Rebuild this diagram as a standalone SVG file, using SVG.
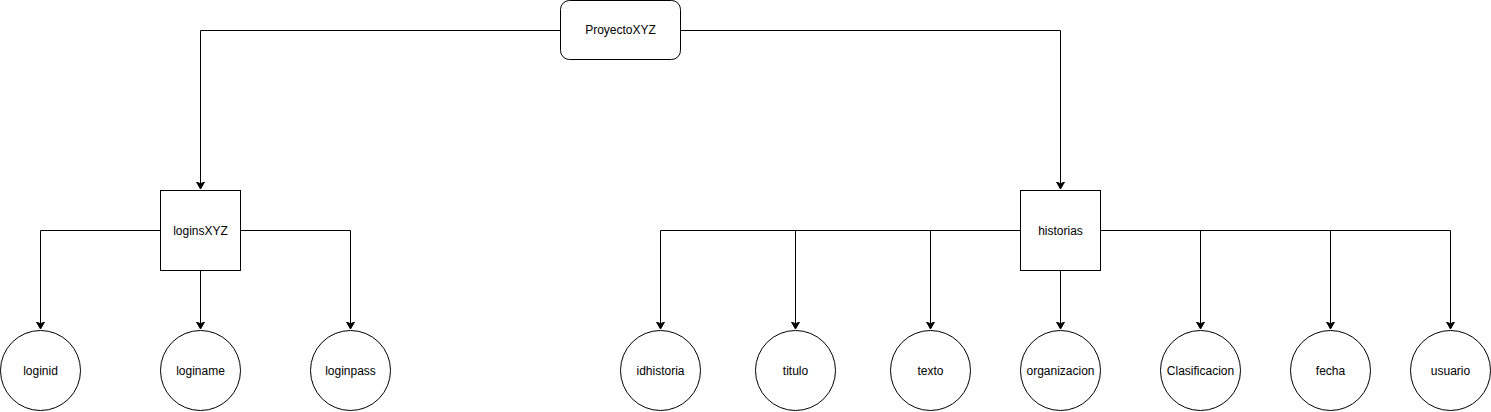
<svg xmlns="http://www.w3.org/2000/svg" width="1491" height="412" viewBox="0 0 1491 412">
<style>
.n{fill:#fff;stroke:#000;stroke-width:1}
.t{font-family:"Liberation Sans",Arial,sans-serif;font-size:12px;fill:#000;text-anchor:middle;dominant-baseline:central}
.e{fill:none;stroke:#000;stroke-width:1}
</style>
<defs>
<marker id="a" markerWidth="10" markerHeight="10" refX="7" refY="4" orient="auto" markerUnits="userSpaceOnUse" viewBox="0 0 10 8">
<path d="M0,0 L7,4 L0,8 L1.75,4 Z" fill="#000" stroke="#000" stroke-width="1"/>
</marker>
</defs>
<rect width="1491" height="412" fill="#fff"/>
<g id="connectors">
<path class="e" d="M560.5,30.5 H200.5 V189" marker-end="url(#a)"/>
<path class="e" d="M680.5,30.5 H1060.5 V189" marker-end="url(#a)"/>
<path class="e" d="M160.5,230.5 H40.5 V329" marker-end="url(#a)"/>
<path class="e" d="M200.5,270.5 V329" marker-end="url(#a)"/>
<path class="e" d="M240.5,230.5 H350.5 V329" marker-end="url(#a)"/>
<path class="e" d="M1020.5,230.5 H660.5 V329" marker-end="url(#a)"/>
<path class="e" d="M795.5,230.5 V329" marker-end="url(#a)"/>
<path class="e" d="M930.5,230.5 V329" marker-end="url(#a)"/>
<path class="e" d="M1060.5,270.5 V329" marker-end="url(#a)"/>
<path class="e" d="M1100.5,230.5 H1450.5 V329" marker-end="url(#a)"/>
<path class="e" d="M1200.5,230.5 V329" marker-end="url(#a)"/>
<path class="e" d="M1330.5,230.5 V329" marker-end="url(#a)"/>
</g>
<g id="proyecto"><rect class="n" x="560.5" y="0.5" width="120" height="59" rx="9" ry="9"/><text class="t" x="620.5" y="30">ProyectoXYZ</text></g>
<g id="loginsXYZ"><rect class="n" x="160.5" y="190.5" width="80" height="80"/><text class="t" x="200.5" y="230.5">loginsXYZ</text></g>
<g id="historias"><rect class="n" x="1020.5" y="190.5" width="80" height="80"/><text class="t" x="1060.5" y="230.5">historias</text></g>
<g id="loginid"><circle class="n" cx="40.5" cy="370.5" r="40"/><text class="t" x="40.5" y="370.5">loginid</text></g>
<g id="loginame"><circle class="n" cx="200.5" cy="370.5" r="40"/><text class="t" x="200.5" y="370.5">loginame</text></g>
<g id="loginpass"><circle class="n" cx="350.5" cy="370.5" r="40"/><text class="t" x="350.5" y="370.5">loginpass</text></g>
<g id="idhistoria"><circle class="n" cx="660.5" cy="370.5" r="40"/><text class="t" x="660.5" y="370.5">idhistoria</text></g>
<g id="titulo"><circle class="n" cx="795.5" cy="370.5" r="40"/><text class="t" x="795.5" y="370.5">titulo</text></g>
<g id="texto"><circle class="n" cx="930.5" cy="370.5" r="40"/><text class="t" x="930.5" y="370.5">texto</text></g>
<g id="organizacion"><circle class="n" cx="1060.5" cy="370.5" r="40"/><text class="t" x="1060.5" y="370.5">organizacion</text></g>
<g id="clasificacion"><circle class="n" cx="1200.5" cy="370.5" r="40"/><text class="t" x="1200.5" y="370.5">Clasificacion</text></g>
<g id="fecha"><circle class="n" cx="1330.5" cy="370.5" r="40"/><text class="t" x="1330.5" y="370.5">fecha</text></g>
<g id="usuario"><circle class="n" cx="1450.5" cy="370.5" r="40"/><text class="t" x="1450.5" y="370.5">usuario</text></g>
</svg>
